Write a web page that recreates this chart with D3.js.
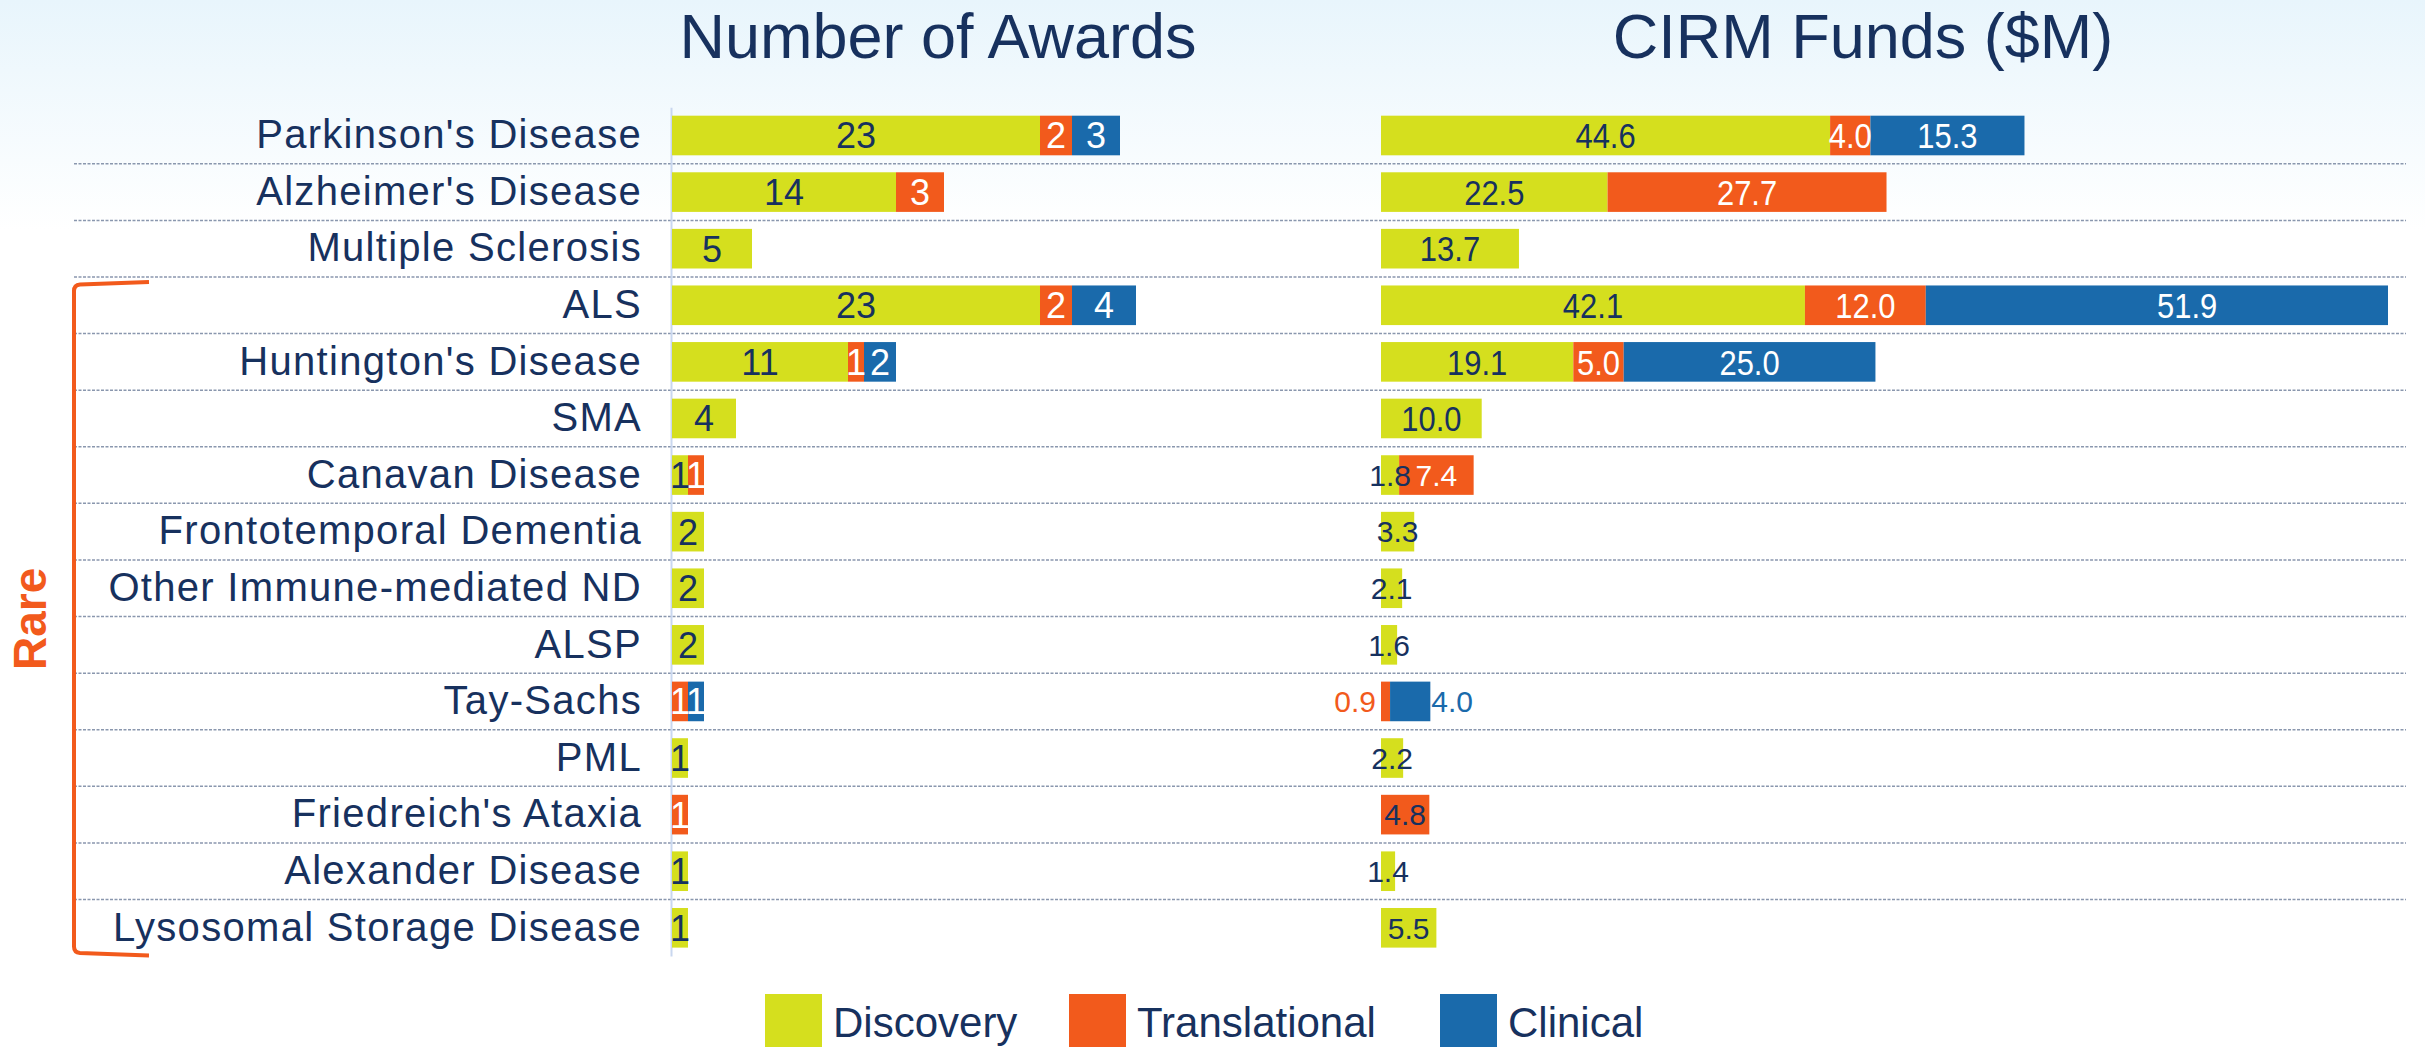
<!DOCTYPE html>
<html>
<head>
<meta charset="utf-8">
<script src="https://cdn.jsdelivr.net/npm/d3@7"></script>
<style>
  html, body { margin: 0; padding: 0; background: #ffffff; overflow: hidden; }
  svg { display: block; }
  svg text { font-family: "Liberation Sans", Arial, Helvetica, sans-serif; }
</style>
</head>
<body>
<svg id="chart" width="2425" height="1047"></svg>
<script>
// ---------------- data ----------------
const categories = [
  "Parkinson's Disease", "Alzheimer's Disease", "Multiple Sclerosis", "ALS",
  "Huntington's Disease", "SMA", "Canavan Disease", "Frontotemporal Dementia",
  "Other Immune-mediated ND", "ALSP", "Tay-Sachs", "PML",
  "Friedreich's Ataxia", "Alexander Disease", "Lysosomal Storage Disease"
];
const seriesNames = ["Discovery", "Translational", "Clinical"];

const awardsDiscovery     = [23, 14, 5, 23, 11, 4, 1, 2, 2, 2, 0, 1, 0, 1, 1];
const awardsTranslational = [2, 3, 0, 2, 1, 0, 1, 0, 0, 0, 1, 0, 1, 0, 0];
const awardsClinical      = [3, 0, 0, 4, 2, 0, 0, 0, 0, 0, 1, 0, 0, 0, 0];

const fundsDiscovery      = [44.6, 22.5, 13.7, 42.1, 19.1, 10.0, 1.8, 3.3, 2.1, 1.6, 0, 2.2, 0, 1.4, 5.5];
const fundsTranslational  = [4.0, 27.7, 0, 12.0, 5.0, 0, 7.4, 0, 0, 0, 0.9, 0, 4.8, 0, 0];
const fundsClinical       = [15.3, 0, 0, 51.9, 25.0, 0, 0, 0, 0, 0, 4.0, 0, 0, 0, 0];

const chartTitles = ["Number of Awards", "CIRM Funds ($M)"];
const groupLabel = "Rare";
const rareFirst = "ALS", rareLast = "Lysosomal Storage Disease";

// ---------------- styling ----------------
const colors = { Discovery: "#d5df1e", Translational: "#f25a1c", Clinical: "#1a6aab" };
const navy = "#17315e";
const orange = "#f25a1c";

const svg = d3.select("#chart");
const W = 2425, H = 1047;

// background gradient
const defs = svg.append("defs");
const grad = defs.append("linearGradient").attr("id", "bg").attr("x1", 0).attr("y1", 0).attr("x2", 0).attr("y2", 1);
grad.append("stop").attr("offset", "0%").attr("stop-color", "#e8f5fc");
grad.append("stop").attr("offset", "22%").attr("stop-color", "#ffffff");
grad.append("stop").attr("offset", "100%").attr("stop-color", "#ffffff");
svg.append("rect").attr("width", W).attr("height", H).attr("fill", "url(#bg)");

// ---------------- scales ----------------
const y = d3.scaleBand().domain(categories).range([107.2, 956.1])
  .paddingInner(0.3).paddingOuter(0.15);

const xAwards = d3.scaleLinear().domain([0, 30]).range([672, 1152]);
const xFunds  = d3.scaleLinear().domain([0, 100]).range([1381, 2388]).clamp(true);

// ---------------- separators ----------------
svg.append("g").selectAll("line")
  .data(categories.slice(1))
  .join("line")
  .attr("x1", 74).attr("x2", 2406)
  .attr("y1", d => y(d) - y.step() * y.paddingInner() / 2)
  .attr("y2", d => y(d) - y.step() * y.paddingInner() / 2)
  .attr("stroke", "#8a97ae")
  .attr("stroke-width", 1.5)
  .attr("stroke-dasharray", "3,1.5");

// ---------------- category axis ----------------
const yAxis = d3.axisLeft(y).tickSize(0).tickSizeOuter(0).tickPadding(29);
const ax = svg.append("g").attr("transform", `translate(${xAwards(0) - 1},0)`).call(yAxis);
ax.attr("font-family", null).attr("font-size", null);
ax.select(".domain").attr("stroke", "#c9d7ef").attr("stroke-width", 2);
ax.selectAll(".tick text")
  .attr("fill", navy)
  .style("font-size", "40px")
  .style("letter-spacing", "1.3px");

// ---------------- stacked bars ----------------
function buildRows(d, t, c) {
  return categories.map((cat, i) => ({ cat, Discovery: d[i], Translational: t[i], Clinical: c[i] }));
}
const stack = d3.stack().keys(seriesNames);
const awardsStack = stack(buildRows(awardsDiscovery, awardsTranslational, awardsClinical));
const fundsStack  = stack(buildRows(fundsDiscovery, fundsTranslational, fundsClinical));

function drawBars(stacked, x, fmt, labelStyle) {
  const g = svg.append("g");
  const barG = g.append("g");
  const labG = g.append("g");
  const xu = x.copy().clamp(false);
  stacked.forEach(layer => {
    const key = layer.key;
    const segs = layer.map(s => ({ key, cat: s.data.cat, v0: s[0], v1: s[1], val: s.data[key] }))
      .filter(s => s.val > 0);
    barG.append("g").selectAll("rect").data(segs).join("rect")
      .attr("x", s => x(s.v0))
      .attr("width", s => x(s.v1) - x(s.v0))
      .attr("y", s => y(s.cat))
      .attr("height", y.bandwidth())
      .attr("fill", colors[key]);
    segs.forEach(s => {
      const st = labelStyle(s);
      const cx = st.anchor === "end" ? xu(s.v0) - 5
               : st.anchor === "start" ? xu(s.v1) + 1
               : (xu(s.v0) + xu(s.v1)) / 2;
      labG.append("text")
        .attr("transform", `translate(${cx},${y(s.cat) + y.bandwidth() / 2 + st.dy}) scale(${st.sx},1)`)
        .attr("text-anchor", st.anchor)
        .attr("fill", st.color)
        .style("font-size", st.size + "px")
        .text(fmt(s.val));
    });
  });
}

drawBars(awardsStack, xAwards, d3.format("d"), s => ({
  anchor: "middle", size: 36, dy: 13, sx: 1,
  color: s.key === "Discovery" ? navy : "#ffffff"
}));

drawBars(fundsStack, xFunds, d3.format(".1f"), s => {
  const idx = categories.indexOf(s.cat);
  const big = idx < 6;
  let color = s.key === "Discovery" ? navy : "#ffffff";
  let anchor = "middle";
  if (s.cat === "Friedreich's Ataxia") color = navy;
  if (s.cat === "Tay-Sachs") {
    color = colors[s.key];
    anchor = s.key === "Translational" ? "end" : "start";
  }
  return big ? { anchor, size: 36, dy: 12.8, sx: 0.86, color }
             : { anchor, size: 30, dy: 10.7, sx: 1, color };
});

// ---------------- titles ----------------
svg.append("g").selectAll("text")
  .data(chartTitles)
  .join("text")
  .attr("x", (d, i) => i === 0 ? 938 : 1863)
  .attr("y", 58)
  .attr("text-anchor", "middle")
  .attr("fill", navy)
  .style("font-size", "63px")
  .text(d => d);

// ---------------- "Rare" bracket ----------------
const yTop = y(rareFirst) - y.step() * y.paddingInner() / 2 + 5;
const yBot = y(rareLast) + y.bandwidth() + 8;
const bracket = d3.path();
bracket.moveTo(149, yTop);
bracket.lineTo(80, yTop + 2.5);
bracket.quadraticCurveTo(74, yTop + 3, 74, yTop + 9);
bracket.lineTo(74, yBot - 9);
bracket.quadraticCurveTo(74, yBot - 3, 80, yBot - 2.5);
bracket.lineTo(149, yBot);
svg.append("path").attr("d", bracket.toString())
  .attr("fill", "none").attr("stroke", orange).attr("stroke-width", 4);

svg.append("text")
  .attr("transform", `translate(46,${(yTop + yBot) / 2}) rotate(-90)`)
  .attr("text-anchor", "middle")
  .attr("fill", orange)
  .style("font-size", "46px")
  .style("font-weight", "bold")
  .text(groupLabel);

// ---------------- legend ----------------
const legendX = [765, 1069, 1440];
const lg = svg.append("g").selectAll("g").data(seriesNames).join("g")
  .attr("transform", (d, i) => `translate(${legendX[i]},994)`);
lg.append("rect").attr("width", 57).attr("height", 56).attr("fill", d => colors[d]);
lg.append("text").attr("x", 68).attr("y", 43)
  .attr("fill", navy).style("font-size", "42px").text(d => d);
</script>
</body>
</html>
